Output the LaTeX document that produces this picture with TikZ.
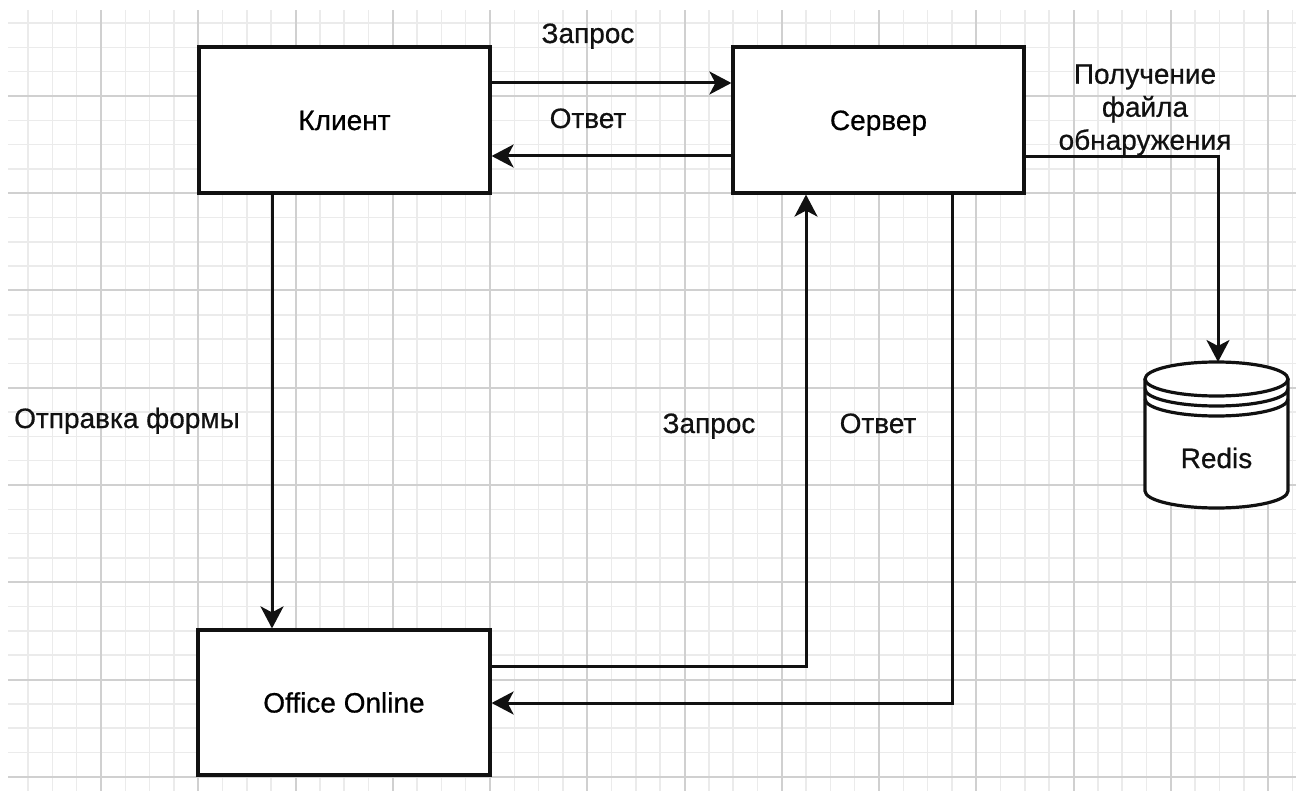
\documentclass[tikz,border=0pt]{standalone}
\usepackage{fontspec}
\setmainfont{Liberation Sans}[FakeBold=0.6]
\usetikzlibrary{arrows.meta}
\definecolor{gridminor}{HTML}{EBEBEB}
\definecolor{gridmajor}{HTML}{D0D0D0}
\definecolor{ink}{HTML}{111111}
\tikzset{
  minorline/.style={draw=gridminor, line width=0.8pt},
  majorline/.style={draw=gridmajor, line width=1pt},
  boxnode/.style={draw=ink, fill=white, line width=1.6pt, minimum width=145.5pt, minimum height=73pt,
    text height=10pt, text depth=0pt, inner sep=0pt},
  lbl/.style={anchor=base, inner sep=0pt, text=ink},
  arr/.style={draw=ink, line width=1.5pt, -{Stealth[length=11pt,width=11.5pt,inset=3pt]}},
  cyl/.style={draw=ink, line width=1.6pt}
}
\begin{document}
\begin{tikzpicture}[x=0.5pt, y=-0.5pt, font=\fontsize{14pt}{16.5pt}\selectfont]
\useasboundingbox[fill=white] (0,0) rectangle (1296,791);
% grid
\begin{scope}
  \clip (8,11) rectangle (1296,791);
  \foreach \i in {0,...,54} {
    \draw[minorline] ({3.75+\i*24.3125},0) -- ({3.75+\i*24.3125},800);
  }
  \foreach \j in {0,...,34} {
    \draw[minorline] (0,{-1.25+\j*24.3125}) -- (1300,{-1.25+\j*24.3125});
  }
  \foreach \i in {0,...,13} {
    \draw[majorline] ({3.75+\i*97.25},0) -- ({3.75+\i*97.25},800);
  }
  \foreach \j in {0,...,8} {
    \draw[majorline] (0,{-1.25+\j*97.25}) -- (1300,{-1.25+\j*97.25});
  }
\end{scope}

% boxes
\node[boxnode] (kl) at (344.5,120) {Клиент};
\node[boxnode] (srv) at (878.5,120) {Сервер};
\node[boxnode, minimum width=146pt, minimum height=72.5pt] (oo) at (344,702.5) {Office Online};

% Redis datastore
\node[minimum width=71.5pt, minimum height=73pt, inner sep=0pt] (redis) at (1216.5,435) {};
\fill[white] (1145,379) -- (1145,491) arc[start angle=180, end angle=360, x radius=35.75pt, y radius=8.5pt]
  -- (1288,379) arc[start angle=0, end angle=180, x radius=35.75pt, y radius=8.5pt] -- cycle;
\draw[cyl] (1216.5,379) ellipse[x radius=35.75pt, y radius=8.5pt];
\draw[cyl] (1145,389) arc[start angle=180, end angle=360, x radius=35.75pt, y radius=8.5pt];
\draw[cyl] (1145,399) arc[start angle=180, end angle=360, x radius=35.75pt, y radius=8.5pt];
\draw[cyl] (1145,379) -- (1145,491) arc[start angle=180, end angle=360, x radius=35.75pt, y radius=8.5pt] -- (1288,379);
\node[lbl] (redislbl) at (1216.5,468) {Redis};
\coordinate (redistop) at (1218,362);

% helper coordinates
\coordinate (yA) at (0,83);
\coordinate (yB) at (0,156);
\coordinate (yC) at (0,157);
\coordinate (xD) at (272,0);
\coordinate (yE) at (0,666);
\coordinate (xE) at (806,0);
\coordinate (xF) at (952,0);
\coordinate (yF) at (0,703);

% connectors
\draw[arr] (kl.east |- yA) -- (srv.west |- yA);
\draw[arr] (srv.west |- yB) -- (kl.east |- yB);
\draw[arr] (srv.east |- yC) -| (redistop);
\draw[arr] (kl.south -| xD) -- (oo.north -| xD);
\draw[arr] (oo.east |- yE) -| (srv.south -| xE);
\draw[arr] (srv.south -| xF) |- (oo.east |- yF);

% labels
\node[lbl] (l1) at (588,43) {Запрос};
\node[lbl] (l2) at (588,128) {Ответ};
\node[inner sep=0pt, align=center, text=ink] (l3) at (1145,110) {Получение\\файла\\обнаружения};
\node[lbl] (l4) at (127,428) {Отправка формы};
\node[lbl] (l5) at (709,433) {Запрос};
\node[lbl] (l6) at (878,433) {Ответ};
\end{tikzpicture}
\end{document}
